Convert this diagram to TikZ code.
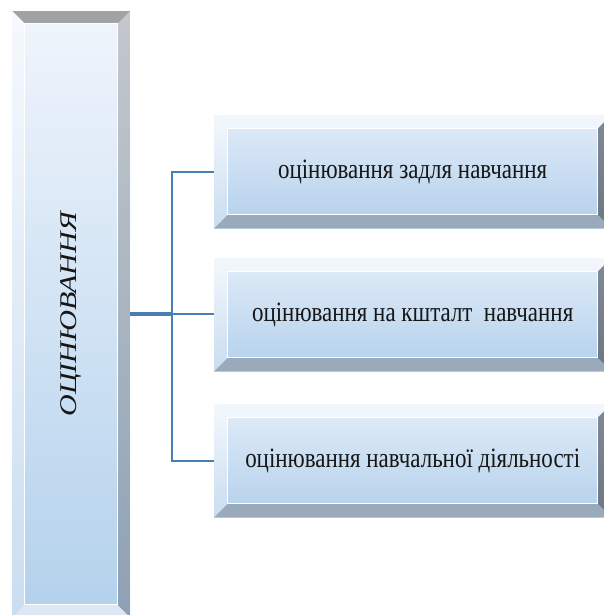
\documentclass[tikz,border=0pt]{standalone}
\usepackage{fontspec}
\usepackage{graphicx}
\setmainfont{Liberation Serif}
\usetikzlibrary{calc}
\definecolor{lFT}{HTML}{F0F5FC}
\definecolor{lFB}{HTML}{B3D1EC}
\definecolor{lBT}{HTML}{A0A2A4}
\definecolor{lBB}{HTML}{DDE8F4}
\definecolor{lLT}{HTML}{F6F9FD}
\definecolor{lLB}{HTML}{CADDF1}
\definecolor{lRT}{HTML}{C4C8CD}
\definecolor{lRB}{HTML}{8EA1B4}
\definecolor{rFT}{HTML}{E2ECF8}
\definecolor{rFB}{HTML}{B2D0EB}
\definecolor{rBT}{HTML}{F1F6FC}
\definecolor{rBB}{HTML}{9AAABB}
\definecolor{rLT}{HTML}{F4F8FD}
\definecolor{rLB}{HTML}{C9DCF0}
\definecolor{rRT}{HTML}{7F8A96}
\definecolor{rRB}{HTML}{6C7884}
\definecolor{connc}{HTML}{4A7DB6}
\definecolor{txt}{HTML}{161616}
\tikzset{
  bevel size/.store in=\bsz,
  face top/.store in=\cFT, face bot/.store in=\cFB,
  bev top/.store in=\cBT, bev bot/.store in=\cBB,
  bev left top/.store in=\cLT, bev left bot/.store in=\cLB,
  bev right top/.store in=\cRT, bev right bot/.store in=\cRB,
  beveled/.style={inner sep=0pt, text=txt,
    path picture={
      \coordinate (pnw) at (path picture bounding box.north west);
      \coordinate (pne) at (path picture bounding box.north east);
      \coordinate (psw) at (path picture bounding box.south west);
      \coordinate (pse) at (path picture bounding box.south east);
      \shade[top color=\cFT, bottom color=\cFB] (pnw) rectangle (pse);
      \fill[\cBT] (pnw) -- (pne) -- ($(pne)+(-\bsz,-\bsz)$) -- ($(pnw)+(\bsz,-\bsz)$) -- cycle;
      \fill[\cBB] (psw) -- (pse) -- ($(pse)+(-\bsz,\bsz)$) -- ($(psw)+(\bsz,\bsz)$) -- cycle;
      \shade[top color=\cLT, bottom color=\cLB] (pnw) -- ($(pnw)+(\bsz,-\bsz)$) -- ($(psw)+(\bsz,\bsz)$) -- (psw) -- cycle;
      \shade[top color=\cRT, bottom color=\cRB] (pne) -- ($(pne)+(-\bsz,-\bsz)$) -- ($(pse)+(-\bsz,\bsz)$) -- (pse) -- cycle;
      \draw[white, line width=0.9pt] ($(pnw)+(\bsz,-\bsz)$) rectangle ($(pse)+(-\bsz,\bsz)$);
    }},
  leftbox/.style={beveled, bevel size=12.5pt,
    face top=lFT, face bot=lFB, bev top=lBT, bev bot=lBB,
    bev left top=lLT, bev left bot=lLB, bev right top=lRT, bev right bot=lRB,
    minimum width=118pt, minimum height=606pt, anchor=north west},
  rightbox/.style={beveled, bevel size=13.5pt,
    face top=rFT, face bot=rFB, bev top=rBT, bev bot=rBB,
    bev left top=rLT, bev left bot=rLB, bev right top=rRT, bev right bot=rRB,
    minimum width=397pt, minimum height=113pt, anchor=north west,
    font=\fontsize{28}{28}\selectfont},
  conn/.style={draw=connc, line width=2pt},
  connthick/.style={draw=connc, line width=3.5pt},
}
\newcommand{\sqz}[1]{\scalebox{0.82}[1]{#1}}
\begin{document}
\begin{tikzpicture}
\useasboundingbox (0pt,0pt) rectangle (603pt,-615pt);
\node[leftbox] (L) at (12pt,-11pt)
  {\rotatebox{90}{\scalebox{1}[0.8]{\fontsize{30}{30}\selectfont\itshape ОЦІНЮВАННЯ}}};
\node[rightbox] (R1) at (214pt,-115pt) {\sqz{оцінювання задля навчання}};
\node[rightbox] (R2) at (214pt,-258pt) {\sqz{оцінювання на кшталт\ \ навчання}};
\node[rightbox] (R3) at (214pt,-404pt) {\sqz{оцінювання навчальної діяльності}};
\coordinate (J) at ($(L.east)+(42pt,0)$);
\draw[connthick] (L.east) -- (J);
\draw[conn] (R1.west) -| (J |- R3.west) -- (R3.west);
\draw[conn] (J) -- (J -| R2.west);
\end{tikzpicture}
\end{document}
